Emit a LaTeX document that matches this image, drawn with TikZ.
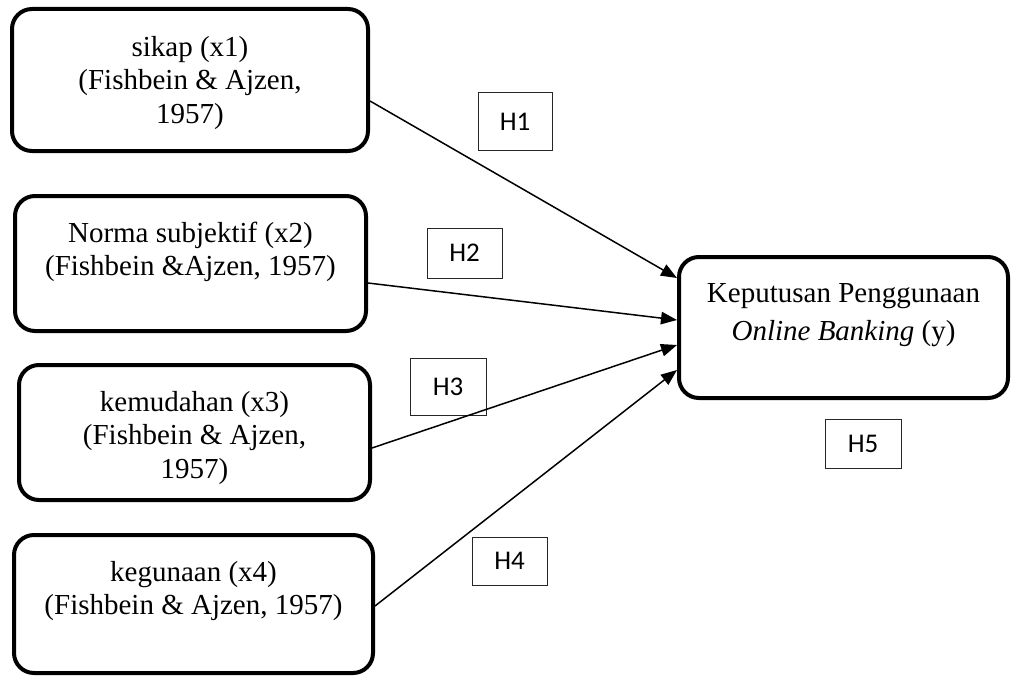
\documentclass[tikz,border=0pt]{standalone}
\usepackage{fontspec}
\setmainfont{Liberation Serif}
\newfontfamily\hfont{Carlito}
\usetikzlibrary{arrows.meta}
\begin{document}
\begin{tikzpicture}[x=1pt,y=-1pt,
  varbox/.style={draw, line width=4pt, rounded corners=20pt, inner sep=0pt},
  vartext/.style={align=center, inner sep=0pt, font=\fontsize{29}{33.5}\selectfont},
  hbox/.style={draw=black!85, line width=1pt, inner sep=0pt,
    font=\hfont\fontsize{27}{30}\selectfont},
  link/.style={line width=1.5pt, -{Triangle[length=16pt,width=12.5pt]}}]
\useasboundingbox (0,0) rectangle (1012,677);

\node[varbox, minimum width=356pt, minimum height=142pt] (b1) at (190,80) {};
\node[vartext] (t1) at (190,83) {sikap (x1)\\(Fishbein \& Ajzen,\\1957)};

\node[varbox, minimum width=351pt, minimum height=135pt] (b2) at (190.5,263.5) {};
\node[vartext] (t2) at (190.5,252) {Norma subjektif (x2)\\(Fishbein \&Ajzen, 1957)};

\node[varbox, minimum width=351pt, minimum height=135pt] (b3) at (194.5,432.5) {};
\node[vartext] (t3) at (194.5,438) {kemudahan (x3)\\(Fishbein \& Ajzen,\\1957)};

\node[varbox, minimum width=359pt, minimum height=138pt] (b4) at (193.5,604) {};
\node[vartext] (t4) at (193.5,591) {kegunaan (x4)\\(Fishbein \& Ajzen, 1957)};

\node[varbox, minimum width=329pt, minimum height=141pt] (y) at (843.5,327.5) {};
\node[vartext, font=\fontsize{29}{38}\selectfont] (ty) at (843.5,315)
  {Keputusan Penggunaan\\\textit{Online Banking} (y)};

\node[hbox, minimum width=74pt, minimum height=58pt] (h1) at (515,121.5) {H1};
\node[hbox, minimum width=75pt, minimum height=50pt] (h2) at (464.5,253) {H2};
\node[hbox, minimum width=76pt, minimum height=57pt] (h3) at (448,386.5) {H3};
\node[hbox, minimum width=75pt, minimum height=48pt] (h4) at (509.5,561) {H4};
\node[hbox, minimum width=76pt, minimum height=49pt] (h5) at (863,443.5) {H5};

\draw[link] ([yshift=-21pt]b1.east) -- ([yshift=49.5pt]y.west);
\draw[link] ([yshift=-19.5pt]b2.east) -- ([yshift=7.5pt]y.west);
\draw[link] ([yshift=-15.5pt]b3.east) -- ([yshift=-17.5pt]y.west);
\draw[link] ([yshift=-2pt]b4.east) -- ([yshift=-42.5pt]y.west);
\end{tikzpicture}
\end{document}
